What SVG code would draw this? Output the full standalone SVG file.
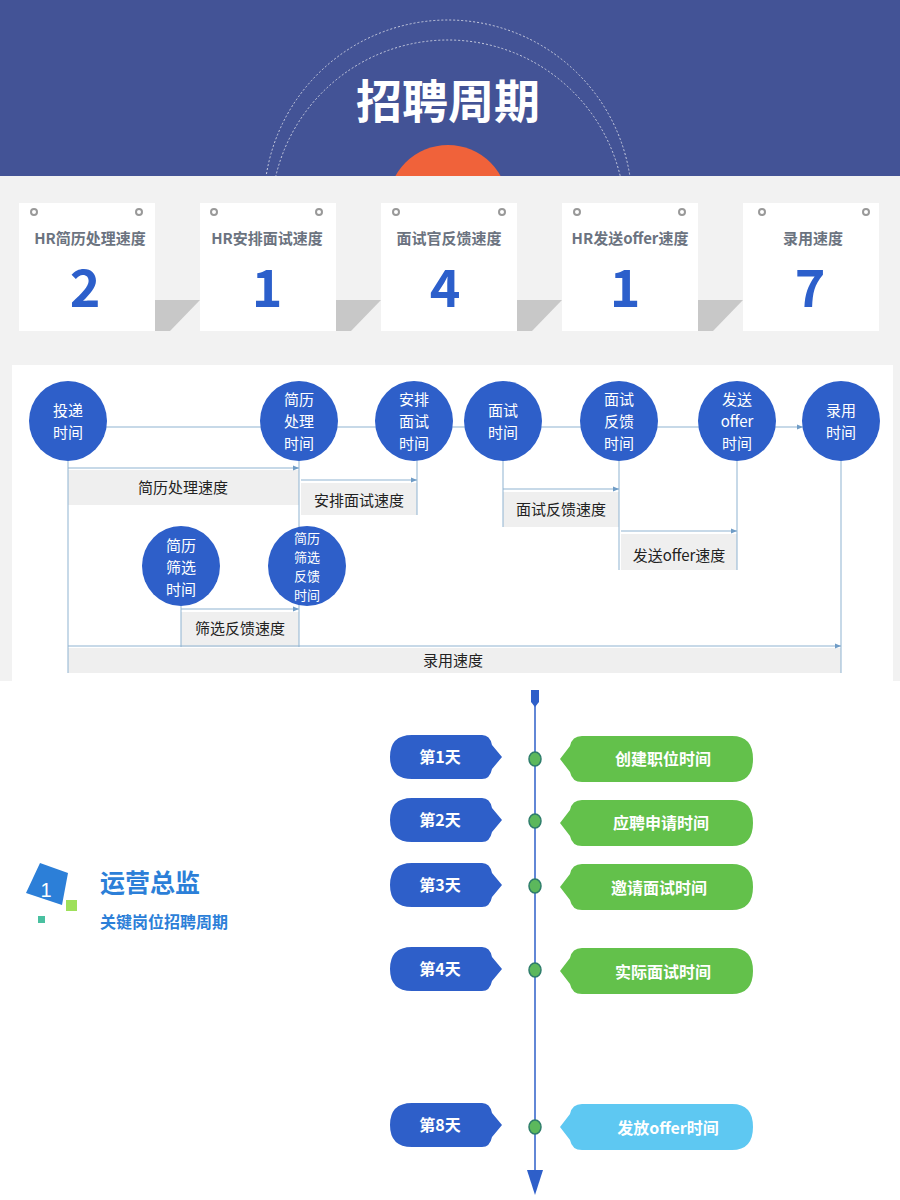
<svg xmlns="http://www.w3.org/2000/svg" width="900" height="1200" viewBox="0 0 900 1200">
<defs>
<style>
text{font-family:"Noto Sans CJK SC","Liberation Sans",sans-serif}
.card{fill:#fff}
.ct{font-size:15px;font-weight:bold;fill:#6b7380;text-anchor:middle}
.cn{font-size:52px;font-weight:bold;fill:#2c5fcb;text-anchor:middle}
.hole{fill:none;stroke:#999;stroke-width:2}
.nd{fill:#2e5fc9}
.nt{font-size:15px;fill:#fff;text-anchor:middle}
.ns{font-size:13px;fill:#fff;text-anchor:middle}
.ln{stroke:#8fb3d1;stroke-width:1;fill:none}
.bx{fill:#efefef}
.bt{font-size:15px;fill:#222;text-anchor:middle}
.day{fill:#2e5fc9}
.dt{font-size:16px;font-weight:bold;fill:#fff;text-anchor:middle}
.gt{font-size:16px;font-weight:bold;fill:#fff;text-anchor:middle}
.dot{fill:#5cb85c;stroke:#2e7d6b;stroke-width:1.5}
.one{font-family:"Liberation Sans",sans-serif;font-size:20px;fill:#fff;text-anchor:middle}
</style>
<marker id="a" viewBox="0 0 10 10" refX="10" refY="5" markerWidth="6" markerHeight="6" orient="auto"><path d="M0,1 L10,5 L0,9 z" fill="#6f9cc6"/></marker>
</defs>
<rect width="900" height="1200" fill="#fff"/>
<rect width="900" height="176" fill="#435396"/>
<circle cx="448" cy="205" r="60" fill="#f0623a"/>
<circle cx="448" cy="204" r="184" fill="none" stroke="#c9cde0" stroke-width="1" stroke-dasharray="2 2"/>
<circle cx="448" cy="217" r="177" fill="none" stroke="#c9cde0" stroke-width="1" stroke-dasharray="2 2"/>
<rect y="176" width="900" height="505" fill="#f2f2f2"/>
<text x="448" y="118" font-size="46" font-weight="bold" fill="#fff" text-anchor="middle">招聘周期</text>

<g id="cards">
<g id="card1"><polygon points="155,331 155,300 200,300 170,331" fill="#c8c8c8"/><rect class="card" x="19" y="203" width="136" height="128"/><circle class="hole" cx="34" cy="212" r="3"/><circle class="hole" cx="139" cy="212" r="3"/><text class="ct" x="90" y="244">HR简历处理速度</text><text class="cn" x="85" y="307">2</text></g>
<g id="card2"><polygon points="336,331 336,300 381,300 351,331" fill="#c8c8c8"/><rect class="card" x="200" y="203" width="136" height="128"/><circle class="hole" cx="214" cy="212" r="3"/><circle class="hole" cx="319" cy="212" r="3"/><text class="ct" x="267" y="244">HR安排面试速度</text><text class="cn" x="267" y="307">1</text></g>
<g id="card3"><polygon points="517,331 517,300 562,300 532,331" fill="#c8c8c8"/><rect class="card" x="381" y="203" width="136" height="128"/><circle class="hole" cx="396" cy="212" r="3"/><circle class="hole" cx="502" cy="212" r="3"/><text class="ct" x="449" y="244">面试官反馈速度</text><text class="cn" x="445" y="307">4</text></g>
<g id="card4"><polygon points="698,331 698,300 743,300 713,331" fill="#c8c8c8"/><rect class="card" x="562" y="203" width="136" height="128"/><circle class="hole" cx="577" cy="212" r="3"/><circle class="hole" cx="682" cy="212" r="3"/><text class="ct" x="630" y="244">HR发送offer速度</text><text class="cn" x="625" y="307">1</text></g>
<g id="card5"><rect class="card" x="743" y="203" width="136" height="128"/><circle class="hole" cx="762" cy="212" r="3"/><circle class="hole" cx="866" cy="212" r="3"/><text class="ct" x="813" y="244">录用速度</text><text class="cn" x="810" y="307">7</text></g>
</g>

<rect x="12" y="365" width="881" height="316" fill="#fff"/>
<g id="bars">
<rect class="bx" x="68" y="470" width="231" height="35"/><text class="bt" x="183" y="493">简历处理速度</text>
<rect class="bx" x="301" y="483" width="116" height="32"/><text class="bt" x="359" y="506">安排面试速度</text>
<rect class="bx" x="503" y="492" width="116" height="35"/><text class="bt" x="561" y="515">面试反馈速度</text>
<rect class="bx" x="621" y="534" width="116" height="36"/><text class="bt" x="679" y="561">发送offer速度</text>
<rect class="bx" x="181" y="612" width="118" height="35"/><text class="bt" x="240" y="634">筛选反馈速度</text>
<rect class="bx" x="68" y="648" width="773" height="25"/><text class="bt" x="453" y="666">录用速度</text>
</g>
<g id="connectors">
<line class="ln" x1="106" y1="427" x2="803" y2="427" marker-end="url(#a)"/>
<line class="ln" x1="68" y1="459" x2="68" y2="673"/>
<line class="ln" x1="299" y1="459" x2="299" y2="647"/>
<line class="ln" x1="417" y1="459" x2="417" y2="515"/>
<line class="ln" x1="503" y1="459" x2="503" y2="527"/>
<line class="ln" x1="619" y1="459" x2="619" y2="570"/>
<line class="ln" x1="737" y1="459" x2="737" y2="570"/>
<line class="ln" x1="841" y1="459" x2="841" y2="673"/>
<line class="ln" x1="181" y1="604" x2="181" y2="647"/>
<line class="ln" x1="68" y1="468" x2="299" y2="468" marker-end="url(#a)"/>
<line class="ln" x1="301" y1="480" x2="417" y2="480" marker-end="url(#a)"/>
<line class="ln" x1="503" y1="489" x2="619" y2="489" marker-end="url(#a)"/>
<line class="ln" x1="621" y1="531" x2="737" y2="531" marker-end="url(#a)"/>
<line class="ln" x1="181" y1="609" x2="299" y2="609" marker-end="url(#a)"/>
<line class="ln" x1="68" y1="646" x2="841" y2="646" marker-end="url(#a)"/>
<line x1="535" y1="690" x2="535" y2="1175" stroke="#2e5fc9" stroke-width="1.5"/>
<polygon points="527,1170 543,1170 535,1195" fill="#2e5fc9"/>
<path d="M531,690 H539 V702 L535,707 L531,702 Z" fill="#2e5fc9"/>
</g>
<g id="n1"><ellipse class="nd" cx="68" cy="421" rx="39" ry="40"/><text class="nt" x="68" y="416">投递</text><text class="nt" x="68" y="438">时间</text></g>
<g id="n2"><ellipse class="nd" cx="299" cy="421" rx="39" ry="40"/><text class="nt" x="299" y="405">简历</text><text class="nt" x="299" y="427">处理</text><text class="nt" x="299" y="449">时间</text></g>
<g id="n3"><ellipse class="nd" cx="414" cy="421" rx="39" ry="40"/><text class="nt" x="414" y="405">安排</text><text class="nt" x="414" y="427">面试</text><text class="nt" x="414" y="449">时间</text></g>
<g id="n4"><ellipse class="nd" cx="503" cy="421" rx="39" ry="40"/><text class="nt" x="503" y="416">面试</text><text class="nt" x="503" y="438">时间</text></g>
<g id="n5"><ellipse class="nd" cx="619" cy="421" rx="39" ry="40"/><text class="nt" x="619" y="405">面试</text><text class="nt" x="619" y="427">反馈</text><text class="nt" x="619" y="449">时间</text></g>
<g id="n6"><ellipse class="nd" cx="737" cy="421" rx="39" ry="40"/><text class="nt" x="737" y="405">发送</text><text class="nt" x="737" y="427">offer</text><text class="nt" x="737" y="449">时间</text></g>
<g id="n7"><ellipse class="nd" cx="841" cy="421" rx="39" ry="40"/><text class="nt" x="841" y="416">录用</text><text class="nt" x="841" y="438">时间</text></g>
<g id="n8"><ellipse class="nd" cx="181" cy="566" rx="39" ry="40"/><text class="nt" x="181" y="551">简历</text><text class="nt" x="181" y="573">筛选</text><text class="nt" x="181" y="595">时间</text></g>
<g id="n9"><ellipse class="nd" cx="307" cy="566" rx="39" ry="40"/><text class="ns" x="307" y="543">简历</text><text class="ns" x="307" y="562">筛选</text><text class="ns" x="307" y="581">反馈</text><text class="ns" x="307" y="600">时间</text></g>

<g id="logo">
<polygon points="40,863 68,873 62,905 26,893" fill="#2c7fd8"/>
<text class="one" x="46" y="897">1</text>
<rect x="66" y="900" width="11" height="11" fill="#9ee05a"/>
<rect x="38" y="916" width="7" height="7" fill="#49c0a0"/>
<text x="100" y="892" font-size="25" font-weight="bold" fill="#2c7fd8">运营总监</text>
<text x="100" y="928" font-size="16" font-weight="bold" fill="#2c7fd8">关键岗位招聘周期</text>
</g>

<g id="t1"><path class="day" d="M412,735 H482 Q490,735 492,745 L502,757 L492,769 Q490,779 482,779 H412 Q390,779 390,757 Q390,735 412,735 Z"/><text class="dt" x="440" y="763">第1天</text><ellipse class="dot" cx="535" cy="759" rx="6" ry="7"/><path d="M582,736 H732 Q753,736 753,759 Q753,782 732,782 H582 Q572,782 570,772 L560,759 L570,746 Q572,736 582,736 Z" fill="#63c14b"/><text class="gt" x="663" y="765">创建职位时间</text></g>
<g id="t2"><path class="day" d="M412,798 H482 Q490,798 492,808 L502,820 L492,832 Q490,842 482,842 H412 Q390,842 390,820 Q390,798 412,798 Z"/><text class="dt" x="440" y="826">第2天</text><ellipse class="dot" cx="535" cy="821" rx="6" ry="7"/><path d="M582,800 H732 Q753,800 753,823 Q753,846 732,846 H582 Q572,846 570,836 L560,823 L570,810 Q572,800 582,800 Z" fill="#63c14b"/><text class="gt" x="661" y="829">应聘申请时间</text></g>
<g id="t3"><path class="day" d="M412,863 H482 Q490,863 492,873 L502,885 L492,897 Q490,907 482,907 H412 Q390,907 390,885 Q390,863 412,863 Z"/><text class="dt" x="440" y="891">第3天</text><ellipse class="dot" cx="535" cy="886" rx="6" ry="7"/><path d="M582,864 H732 Q753,864 753,887 Q753,910 732,910 H582 Q572,910 570,900 L560,887 L570,874 Q572,864 582,864 Z" fill="#63c14b"/><text class="gt" x="659" y="894">邀请面试时间</text></g>
<g id="t4"><path class="day" d="M412,947 H482 Q490,947 492,957 L502,969 L492,981 Q490,991 482,991 H412 Q390,991 390,969 Q390,947 412,947 Z"/><text class="dt" x="440" y="975">第4天</text><ellipse class="dot" cx="535" cy="970" rx="6" ry="7"/><path d="M582,948 H732 Q753,948 753,971 Q753,994 732,994 H582 Q572,994 570,984 L560,971 L570,958 Q572,948 582,948 Z" fill="#63c14b"/><text class="gt" x="663" y="978">实际面试时间</text></g>
<g id="t8"><path class="day" d="M412,1103 H482 Q490,1103 492,1113 L502,1125 L492,1137 Q490,1147 482,1147 H412 Q390,1147 390,1125 Q390,1103 412,1103 Z"/><text class="dt" x="440" y="1131">第8天</text><ellipse class="dot" cx="535" cy="1127" rx="6" ry="7"/><path d="M582,1104 H732 Q753,1104 753,1127 Q753,1150 732,1150 H582 Q572,1150 570,1140 L560,1127 L570,1114 Q572,1104 582,1104 Z" fill="#5ec8f2"/><text class="gt" x="668" y="1134">发放offer时间</text></g>
</svg>
